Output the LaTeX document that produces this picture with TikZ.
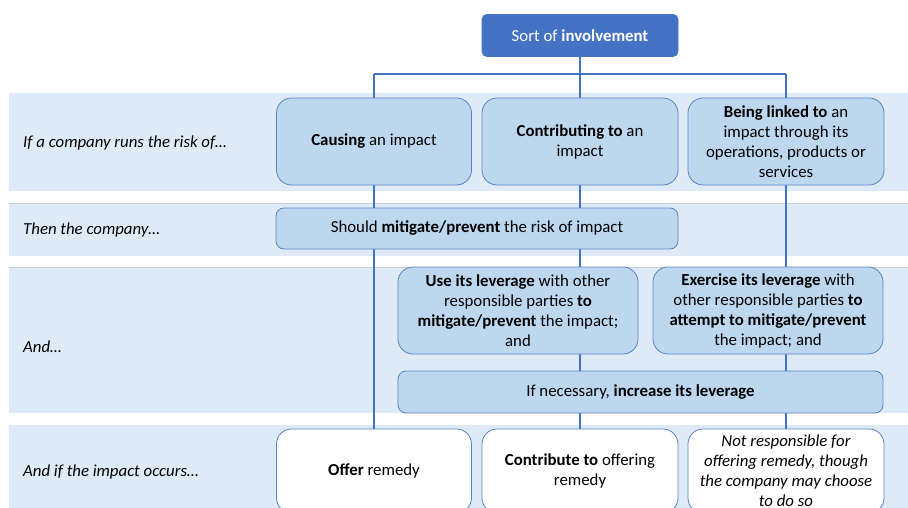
\documentclass[tikz,border=0pt]{standalone}
\usepackage{fontspec}
\setmainfont{Carlito}
\usepackage{tikz}
\usetikzlibrary{positioning, calc}

\definecolor{bandblue}{HTML}{DEEBF7}
\definecolor{boxblue}{HTML}{BDD7EE}
\definecolor{edgeblue}{HTML}{5A83C6}
\definecolor{lineblue}{HTML}{4472C4}
\definecolor{bandgray}{HTML}{C9CED6}

\pgfdeclarelayer{back}
\pgfdeclarelayer{lines}
\pgfsetlayers{back,lines,main}

\tikzset{
    mainbox/.style={draw=edgeblue, fill=boxblue, line width=0.8pt, rounded corners=15pt,
        align=center, inner sep=0pt, font=\fontsize{16.8}{20}\selectfont},
    thinbox/.style={mainbox, rounded corners=8pt},
    remedybox/.style={mainbox, fill=white},
    topbox/.style={mainbox, fill=lineblue, draw=lineblue, rounded corners=5pt, text=white},
    rowlabel/.style={anchor=west, inner sep=0pt, font=\fontsize{16.8}{20}\selectfont\itshape},
    link/.style={draw=lineblue, line width=1.8pt}
}

\begin{document}
\begin{tikzpicture}[x=1pt, y=-1pt]
        \useasboundingbox (0,0) rectangle (908,508);
        \clip (0,0) rectangle (908,508);

        % bands
        \begin{pgfonlayer}{back}
            \fill[white] (0,0) rectangle (908,508);
            \fill[bandblue] (9,93) rectangle (908,191);
            \fill[bandblue] (9,203) rectangle (908,256);
            \fill[bandblue] (9,267) rectangle (908,413);
            \fill[bandblue] (9,425) rectangle (908,508);
            \draw[bandgray, line width=0.8pt] (9,203) -- (908,203);
            \draw[bandgray, line width=0.8pt] (9,267) -- (908,267);
        \end{pgfonlayer}

        % row labels
        \node[rowlabel] (lcause) at (23,143) {If a company runs the risk of…};
        \node[rowlabel] (lthen) at (23,230) {Then the company…};
        \node[rowlabel] (land) at (23,347) {And…};
        \node[rowlabel] (loccur) at (23,472) {And if the impact occurs…};

        % boxes
        \node[topbox, minimum width=196pt, minimum height=42pt] (sort) at (580,35.5)
            {Sort of \textbf{involvement}};

        \node[mainbox, minimum width=195pt, minimum height=87pt] (causing) at (374,141.5)
            {\textbf{Causing} an impact};
        \node[mainbox, minimum width=196pt, minimum height=87pt] (contrib) at (580,141.5)
            {\textbf{Contributing to} an\\ impact};
        \node[mainbox, minimum width=196pt, minimum height=87pt] (linked) at (786,141.5)
            {\textbf{Being linked to} an\\ impact through its\\ operations, products or\\ services};

        \node[thinbox, minimum width=402pt, minimum height=41pt] (should) at (477,228.5)
            {Should \textbf{mitigate/prevent} the risk of impact};

        \node[mainbox, minimum width=240pt, minimum height=87pt] (useleverage) at (518,310.5)
            {\textbf{Use its leverage} with other\\ responsible parties \textbf{to}\\ \textbf{mitigate/prevent} the impact;\\ and};
        \node[mainbox, minimum width=230pt, minimum height=87pt] (exercise) at (768,310.5)
            {\textbf{Exercise its leverage} with\\ other responsible parties \textbf{to}\\ \textbf{attempt to mitigate/prevent}\\ the impact; and};
        \node[thinbox, minimum width=485pt, minimum height=42pt] (increase) at (640.5,392)
            {If necessary, \textbf{increase its leverage}};

        \node[remedybox, minimum width=195pt, minimum height=84pt] (offer) at (374,471)
            {\textbf{Offer} remedy};
        \node[remedybox, minimum width=196pt, minimum height=84pt] (contribute) at (580,471)
            {\textbf{Contribute to} offering\\ remedy};
        \node[remedybox, minimum width=196pt, minimum height=84pt, font=\fontsize{16.8}{20}\selectfont\itshape] (notresp) at (786,471)
            {Not responsible for\\ offering remedy, though\\ the company may choose\\ to do so};

        % connectors
        \coordinate (jmid) at (580,74);
        \coordinate (jleft) at (374,74);
        \coordinate (jright) at (786,74);
        \begin{pgfonlayer}{lines}
            \draw[link] (sort.south) -- (jmid);
            \draw[link] (jleft) -- (jright);
            \draw[link] (jleft) -- (offer.north);
            \draw[link] (jmid) -- (contribute.north);
            \draw[link] (jright) -- (notresp.north);
        \end{pgfonlayer}
\end{tikzpicture}
\end{document}
